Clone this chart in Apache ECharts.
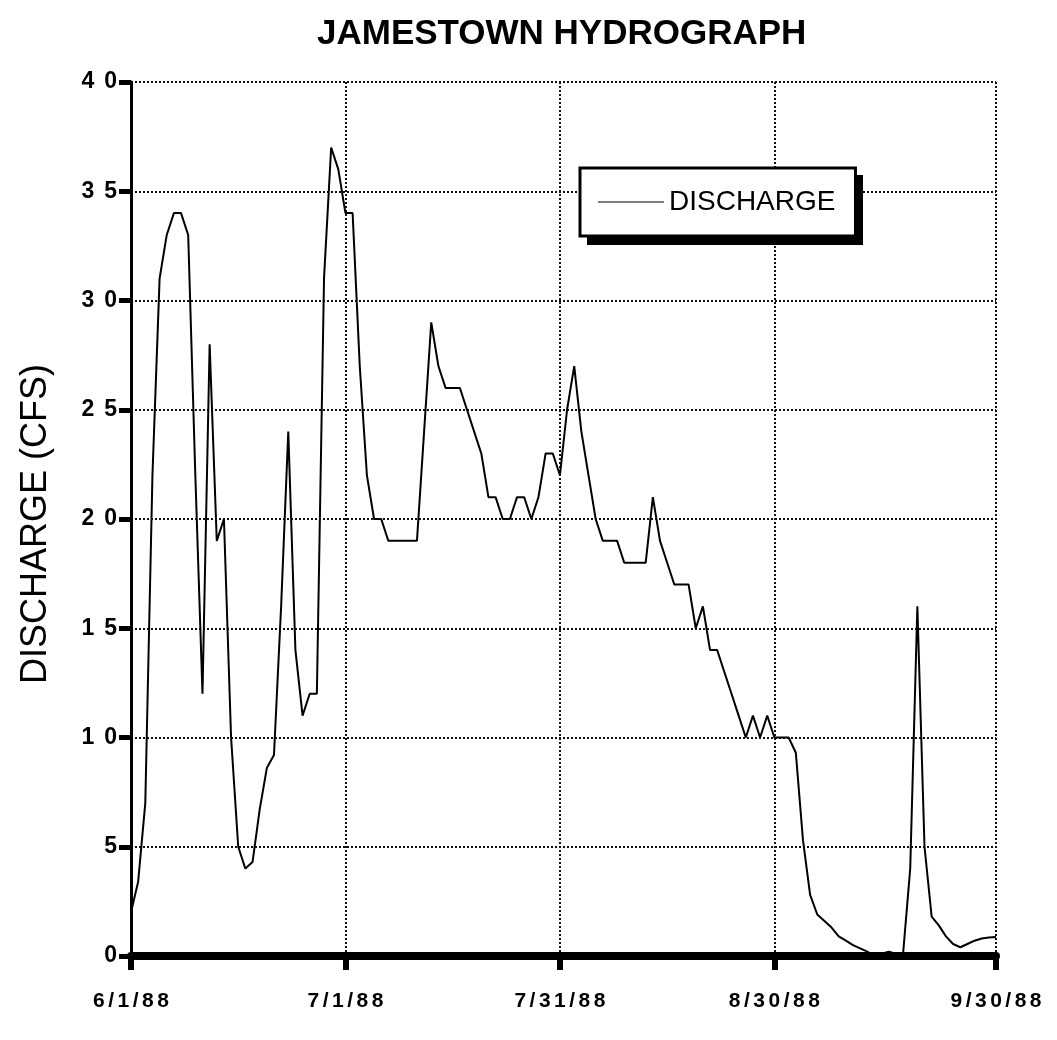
<!DOCTYPE html>
<html>
<head>
<meta charset="utf-8">
<title>Jamestown Hydrograph</title>
<script src="https://cdn.jsdelivr.net/npm/echarts@6/dist/echarts.min.js"></script>
<style>
  html, body { margin: 0; padding: 0; background: #ffffff; }
  #chart { width: 1057px; height: 1040px; }
</style>
</head>
<body>
<div id="chart"></div>
<script>
// Daily record, 6/1/88 through 9/30/88
const startDate = new Date(1988, 5, 1);
const dayCount = 122;

// Dates that carry a tick, label and gridline
const tickLabels = ['6/1/88', '7/1/88', '7/31/88', '8/30/88', '9/30/88'];

// Mean daily discharge, cfs
const discharge = [
  2, 3.4, 7, 22, 31, 33, 34, 34, 33, 22,
  12, 28, 19, 20, 10, 5, 4, 4.3, 6.7, 8.6,
  9.2, 16, 24, 14, 11, 12, 12, 31, 37, 36,
  34, 34, 27, 22, 20, 20, 19, 19, 19, 19,
  19, 24, 29, 27, 26, 26, 26, 25, 24, 23,
  21, 21, 20, 20, 21, 21, 20, 21, 23, 23,
  22, 25, 27, 24, 22, 20, 19, 19, 19, 18,
  18, 18, 18, 21, 19, 18, 17, 17, 17, 15,
  16, 14, 14, 13, 12, 11, 10, 11, 10, 11,
  10, 10, 10, 9.3, 5.3, 2.8, 1.9, 1.6, 1.3, 0.9,
  0.7, 0.5, 0.35, 0.2, 0, 0.1, 0.2, 0.1, 0.1, 4,
  16, 5, 1.8, 1.4, 0.9, 0.55, 0.4, 0.55, 0.7, 0.8,
  0.85, 0.87
];

// m/d/yy category for each day
const dates = [];
for (let i = 0; i < dayCount; i++) {
  const d = new Date(startDate.getTime());
  d.setDate(startDate.getDate() + i);
  dates.push((d.getMonth() + 1) + '/' + d.getDate() + '/' + String(d.getFullYear()).slice(2));
}

const isTickDate = (idx, value) => tickLabels.indexOf(value) !== -1;

// Spread characters apart with fixed-width spacer tokens
function spaced(str) {
  return String(str).split('').map(c => '{c|' + c + '}').join('{s| }');
}

const fontFamily = '"Liberation Sans", Arial, Helvetica, sans-serif';

// Legend box placement (the drop shadow sits behind it)
const legendBox = { left: 580, top: 168, width: 276, height: 70, shadow: 7 };

const chart = echarts.init(document.getElementById('chart'), null, { renderer: 'canvas' });

chart.setOption({
  backgroundColor: '#ffffff',
  animation: false,
  title: {
    text: 'JAMESTOWN HYDROGRAPH',
    left: 312,
    top: 12,
    textStyle: { fontFamily, fontSize: 35, fontWeight: 'bold', color: '#000' }
  },
  graphic: [{
    type: 'rect',
    left: legendBox.left + legendBox.shadow,
    top: legendBox.top + legendBox.shadow,
    shape: { width: legendBox.width, height: legendBox.height },
    style: { fill: '#000' },
    z: 3
  }],
  legend: {
    show: true,
    data: ['DISCHARGE'],
    left: legendBox.left,
    top: legendBox.top,
    orient: 'horizontal',
    padding: [20, 20, 20, 18],
    icon: 'rect',
    itemWidth: 66,
    itemHeight: 1.2,
    itemGap: 0,
    itemStyle: { color: '#000', borderWidth: 0 },
    backgroundColor: '#ffffff',
    borderColor: '#000',
    borderWidth: 3,
    z: 4,
    textStyle: { fontFamily, fontSize: 28, color: '#000' }
  },
  grid: {
    left: 131,
    right: 61,
    top: 82,
    bottom: 84,
    containLabel: false
  },
  xAxis: {
    type: 'category',
    data: dates,
    boundaryGap: false,
    axisLine: { show: true, onZero: false, lineStyle: { color: '#000', width: 8 } },
    axisTick: { show: true, interval: isTickDate, length: 14, inside: false, lineStyle: { color: '#000', width: 6 } },
    axisLabel: {
      show: true,
      interval: isTickDate,
      margin: 35,
      formatter: v => spaced(v),
      rich: {
        c: { fontFamily, fontSize: 21, fontWeight: 'bold', color: '#000' },
        s: { width: 3.5, fontSize: 21 }
      }
    },
    splitLine: { show: true, interval: isTickDate, lineStyle: { color: '#111', width: 2, type: 'dotted' } }
  },
  yAxis: {
    type: 'value',
    min: 0,
    max: 40,
    interval: 5,
    name: 'DISCHARGE (CFS)',
    nameLocation: 'middle',
    nameRotate: 90,
    nameGap: 77,
    nameTextStyle: { fontFamily, fontSize: 36, color: '#000', padding: [0, 10, 0, 0] },
    axisLine: { show: true, lineStyle: { color: '#000', width: 3 } },
    axisTick: { show: true, length: 12, inside: false, lineStyle: { color: '#000', width: 5 } },
    axisLabel: {
      margin: 14,
      formatter: v => spaced(v),
      rich: {
        c: { fontFamily, fontSize: 23, fontWeight: 'bold', color: '#000' },
        s: { width: 10, fontSize: 23 }
      }
    },
    splitLine: { show: true, lineStyle: { color: '#111', width: 2, type: 'dotted' } }
  },
  series: [{
    name: 'DISCHARGE',
    type: 'line',
    data: discharge,
    symbol: 'none',
    showSymbol: false,
    smooth: false,
    lineStyle: { color: '#000', width: 2 },
    itemStyle: { color: '#000' },
    z: 5
  }]
});
</script>
</body>
</html>
